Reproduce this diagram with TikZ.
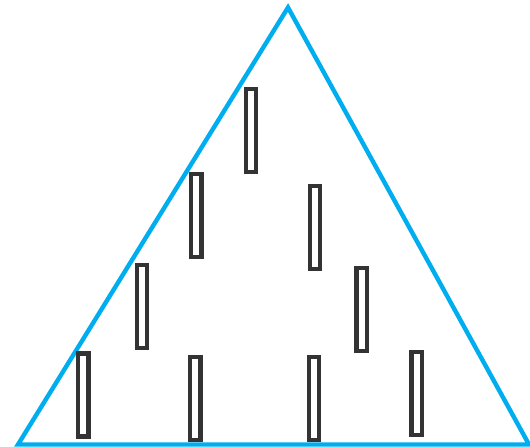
\documentclass[tikz,border=0pt]{standalone}
\definecolor{triblue}{HTML}{00AEEF}
\definecolor{bargray}{HTML}{333333}
\tikzset{
  bar/.style={draw=bargray, line width=4.2pt, minimum width=10.4pt, minimum height=83pt, inner sep=0pt, outer sep=0pt},
  triline/.style={draw=triblue, line width=4.4pt, line join=miter}
}
\begin{document}
\begin{tikzpicture}[x=1pt,y=-1pt]
\useasboundingbox (0,0) rectangle (530,447);
\coordinate (apex) at (288,7.5);
\coordinate (bl) at (18,444.5);
\coordinate (br) at (529,444.5);
\draw[triline] (apex) -- (bl) -- (br) -- cycle;
\node[bar] (r1) at (250.8,130.3) {};
\node[bar] (r2) at (196.3,215.7) {};
\node[bar] (r3) at (315,227.2) {};
\node[bar] (r4) at (142,306.3) {};
\node[bar] (r5) at (361.7,309.5) {};
\node[bar] (r6) at (83.2,395) {};
\node[bar] (r7) at (195.2,398.3) {};
\node[bar] (r8) at (313.8,398.3) {};
\node[bar] (r9) at (416.7,393.5) {};
\end{tikzpicture}
\end{document}
